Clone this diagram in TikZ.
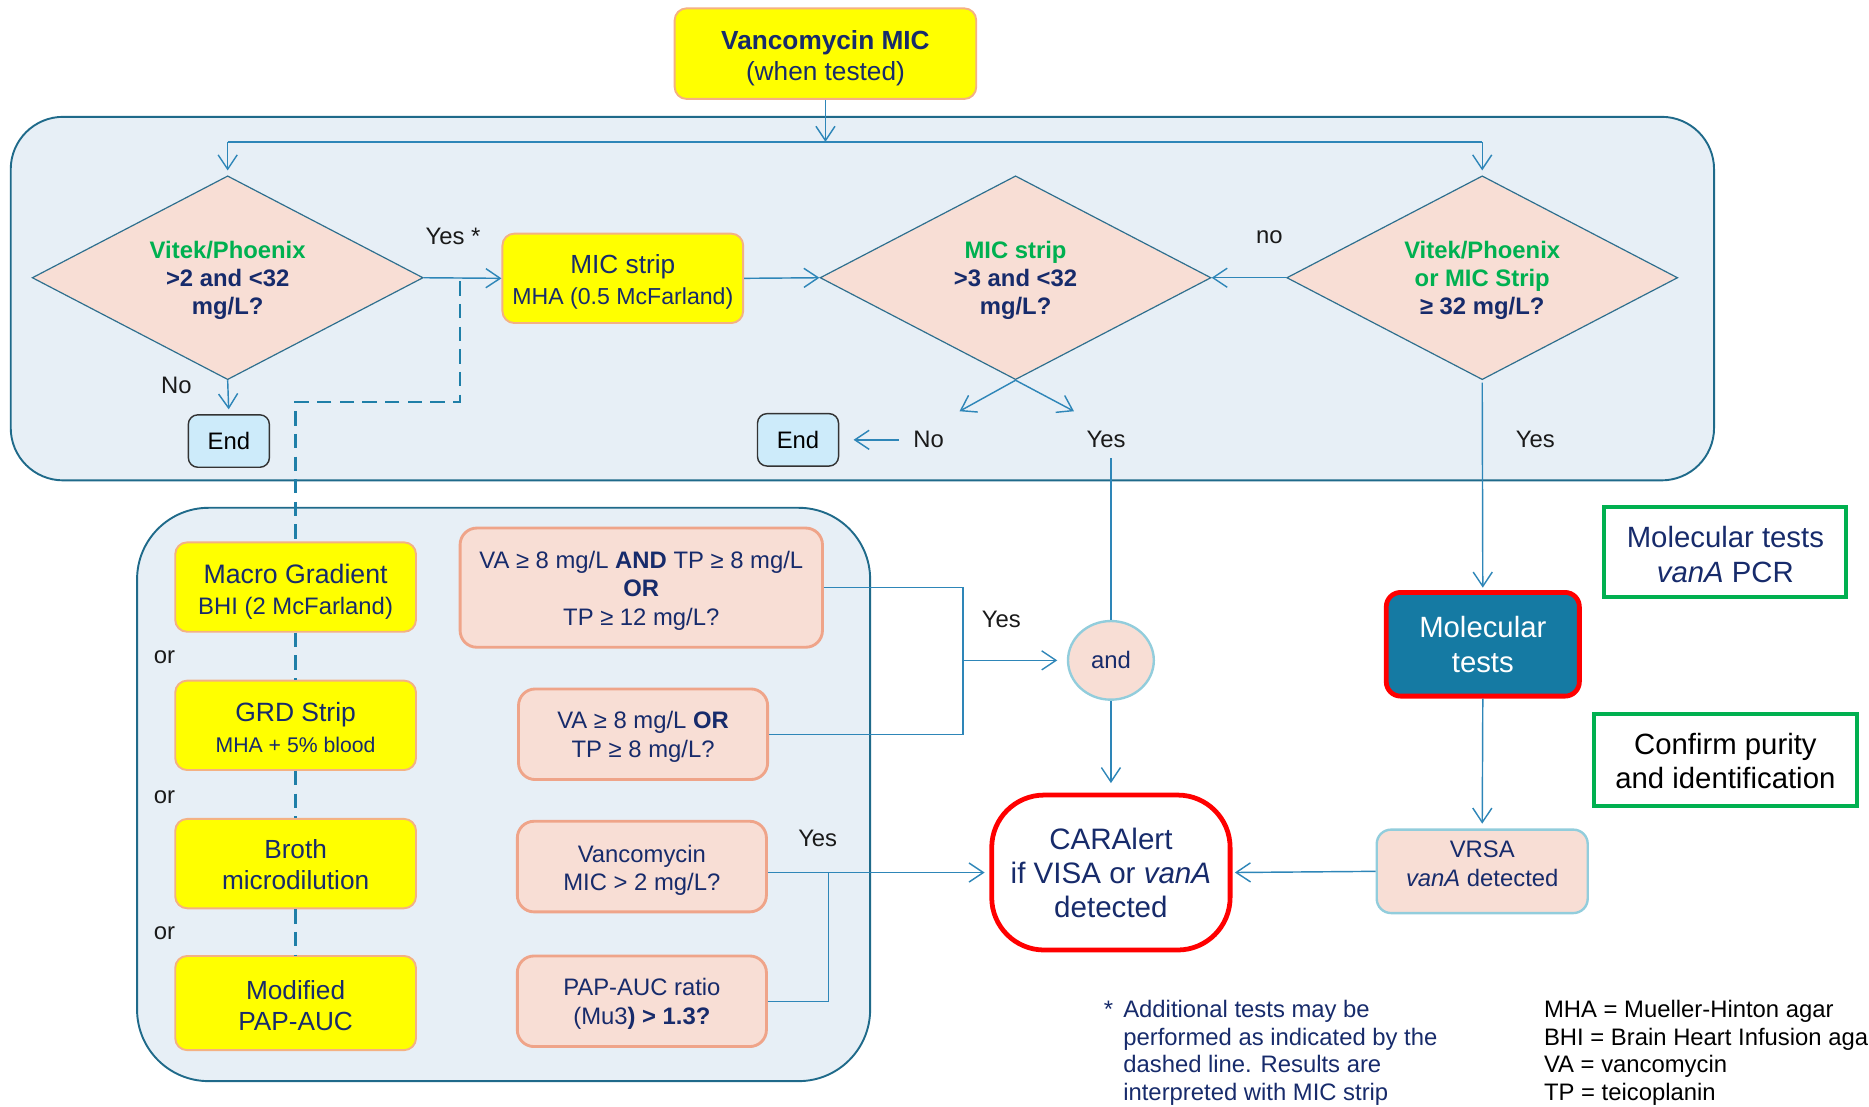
\documentclass[tikz,border=0pt]{standalone}
\usepackage{fontspec}
\setmainfont{Liberation Sans}
\usetikzlibrary{arrows.meta,shapes.geometric,calc}

\definecolor{navy}{HTML}{172B6B}
\definecolor{dgreen}{HTML}{00B050}
\definecolor{yfill}{HTML}{FFFF00}
\definecolor{yborder}{HTML}{F4B183}
\definecolor{pfill}{HTML}{F8DED5}
\definecolor{pborder}{HTML}{EFA489}
\definecolor{panelfill}{HTML}{E7EFF6}
\definecolor{panelborder}{HTML}{1F6A8A}
\definecolor{lineblue}{HTML}{2E86B8}
\definecolor{dashblue}{HTML}{1F7FA8}
\definecolor{diaborder}{HTML}{2E6F8E}
\definecolor{endfill}{HTML}{CDEBFA}
\definecolor{lightblue}{HTML}{92CDDC}
\definecolor{molfill}{HTML}{157AA3}
\definecolor{alertred}{HTML}{FF0000}
\definecolor{labelgray}{HTML}{1A1A1A}

\begin{document}
\begin{tikzpicture}[x=0.5pt,y=-0.5pt,
  panel/.style={draw=panelborder, fill=panelfill, line width=0.8pt},
  conn/.style={draw=lineblue, line width=0.6pt},
  arr/.style={conn, -{Straight Barb[length=6pt,width=8pt]}},
  dashline/.style={draw=dashblue, line width=1pt, dash pattern=on 6pt off 3.5pt},
  % box shapes; their texts are set as centred labels so they can be nudged
  ybox/.style={draw=yborder, fill=yfill, line width=0.8pt, rounded corners=5pt,
    inner sep=0pt, minimum width=101pt, minimum height=37.5pt},
  pbox/.style={draw=pborder, fill=pfill, line width=1.2pt, rounded corners=7pt,
    inner sep=0pt, minimum width=104.5pt, minimum height=38pt},
  boxtext/.style={align=center, text=navy, inner sep=0pt, font=\fontsize{11}{13}\selectfont},
  ptext/.style={boxtext, font=\fontsize{10}{12}\selectfont},
  dia/.style={diamond, draw=diaborder, fill=pfill, line width=0.5pt, inner sep=0pt,
    minimum width=164pt, minimum height=85.5pt},
  diatext/.style={align=center, text=navy, font=\fontsize{10}{11.75}\selectfont\bfseries},
  endbox/.style={draw=black!80, fill=endfill, line width=0.6pt, rounded corners=4pt,
    inner sep=0pt, minimum width=34pt, minimum height=22pt, font=\fontsize{10}{12}\selectfont},
  gbox/.style={draw=dgreen, fill=white, line width=1.6pt, inner sep=0pt},
  gtext/.style={boxtext, font=\fontsize{12.3}{14.5}\selectfont},
  lbl/.style={text=labelgray, font=\fontsize{10}{12}\selectfont, inner sep=0pt}
]
\useasboundingbox (0,0) rectangle (1568,928);

% background panels
\draw[panel, rounded corners=22pt] (9,98) rectangle (1438,403);
\draw[panel, rounded corners=30pt] (115,426) rectangle (730,907);

% entry box
\node[ybox, minimum width=126.5pt, minimum height=38pt,
  label={[boxtext, yshift=-2pt]center:{\textbf{Vancomycin MIC}\\(when tested)}}]
  (top) at (692.5,45) {};

% decision diamonds
\node[dia] (d1) at (191,233) {};
\node[diatext] at ($(d1)+(0,2.5)$) {\textcolor{dgreen}{Vitek/Phoenix}\\>2 and <32\\mg/L?};
\node[dia] (d2) at (852,233) {};
\node[diatext] at ($(d2)+(0,2.5)$) {\textcolor{dgreen}{MIC strip}\\>3 and <32\\mg/L?};
\node[dia] (d3) at (1243.5,233) {};
\node[diatext] at ($(d3)+(0,2.5)$) {\textcolor{dgreen}{Vitek/Phoenix}\\\textcolor{dgreen}{or MIC Strip}\\≥ 32 mg/L?};

% MIC strip box
\node[ybox, label={[boxtext, yshift=-1.5pt]center:{MIC strip\\{\fontsize{9.7}{12}\selectfont MHA (0.5 McFarland)}}}]
  (mic) at (522.5,233.5) {};

% end boxes
\node[endbox] (end1) at (192,370) {End};
\node[endbox] (end2) at (669.5,369) {End};

% split from the entry box
\coordinate (split) at (692.5,119);
\draw[arr] (top.south) -- (split);
\draw[conn] (d1.north |- split) -- (d3.north |- split);
\draw[arr, shorten >=2pt] (d1.north |- split) -- (d1.north);
\draw[arr, shorten >=2pt] (d3.north |- split) -- (d3.north);

% upper panel connectors
\draw[arr] (d1.east) -- (mic.west);
\node[lbl] (yes1) at (380,198) {Yes *};
\draw[arr] (mic.east) -- (d2.west);
\draw[arr] (d3.west) -- (d2.east);
\node[lbl] (no3) at (1065,199) {no};
\draw[arr, shorten >=2pt] (d1.south) -- (end1.north);
\node[lbl] (no1) at (148,323) {No};
\coordinate (d2l) at (805,345);
\coordinate (d2r) at (901,345);
\draw[arr] (d2.south) -- (d2l);
\draw[arr] (d2.south) -- (d2r);
\node[lbl] (no2) at (779,369) {No};
\node[lbl] (yes2) at (928,369) {Yes};
\draw[arr, shorten >=6pt] ($(no2.west)+(-12,0)$) -- (end2.east);
\node[lbl] (yes3) at (1288,369) {Yes};

% lower panel: methods
\node[ybox, label={[boxtext, yshift=-2pt, font=\fontsize{11.2}{13}\selectfont]center:{Macro Gradient\\{\fontsize{10}{12}\selectfont BHI (2 McFarland)}}}]
  (mg) at (248,492.5) {};
\node[ybox, label={[boxtext, yshift=-1pt, font=\fontsize{11.1}{13}\selectfont]center:{GRD Strip\\{\fontsize{8.9}{11}\selectfont MHA + 5\% blood}}}]
  (grd) at (248,608.5) {};
\node[ybox, label={[boxtext, yshift=-0.5pt]center:{Broth\\microdilution}}]
  (bmd) at (248,724.5) {};
\node[ybox, minimum height=39.5pt, label={[boxtext, yshift=-1pt]center:{Modified\\PAP-AUC}}]
  (pap) at (248,841.5) {};
\node[lbl] at (138,551) {or};
\node[lbl] at (138,669) {or};
\node[lbl] at (138,783) {or};

% dashed route for additional tests
\coordinate (dsh) at (386,233);
\draw[dashline] ($(dsh)+(0,3)$) -- (386,337) -- (248,337) -- (mg.north);
\draw[dashline] (mg.south) -- (grd.north);
\draw[dashline] (grd.south) -- (bmd.north);
\draw[dashline] (bmd.south) -- (pap.north);

% lower panel: criteria
\node[pbox, minimum width=152pt, minimum height=50pt,
  label={[ptext, yshift=-1.2pt]center:{VA ≥ 8 mg/L \textbf{AND} TP ≥ 8 mg/L\\\textbf{OR}\\TP ≥ 12 mg/L?}}]
  (ca) at (538,493) {};
\node[pbox, label={[ptext, yshift=-1.2pt]center:{VA ≥ 8 mg/L \textbf{OR}\\TP ≥ 8 mg/L?}}]
  (cb) at (539.5,616) {};
\node[pbox, label={[ptext, yshift=-1.5pt]center:{Vancomycin\\MIC > 2 mg/L?}}]
  (cc) at (538.5,727) {};
\node[pbox, label={[ptext, yshift=-1pt]center:{PAP-AUC ratio\\(Mu3\textbf{) > 1.3?}}}]
  (cd) at (538.5,840) {};

% result nodes
\node[ellipse, draw=lightblue, fill=pfill, line width=1pt, inner sep=0pt,
  minimum width=36pt, minimum height=33pt, text=navy, font=\fontsize{10}{12}\selectfont]
  (and) at (932,554) {and};
\node[draw=alertred, fill=white, line width=2pt, rounded corners=22pt, inner sep=0pt,
  minimum width=100pt, minimum height=65pt, align=center, text=navy,
  font=\fontsize{12.4}{14.25}\selectfont] (car) at (932,732)
  {CARAlert\\if VISA or \textit{vanA}\\detected};
\node[draw=alertred, fill=molfill, line width=2pt, rounded corners=6pt, inner sep=0pt,
  minimum width=81pt, minimum height=43.5pt, align=center, text=white,
  font=\fontsize{12.3}{14.5}\selectfont] (mol) at (1244,540.5) {Molecular\\tests};
\node[draw=lightblue, fill=pfill, line width=1pt, rounded corners=6pt, inner sep=0pt,
  minimum width=88.5pt, minimum height=35pt,
  label={[ptext, yshift=3.2pt]center:{VRSA\\\textit{vanA} detected}}] (vrsa) at (1243.5,731) {};
\node[gbox, minimum width=101.5pt, minimum height=38pt,
  label={[gtext, yshift=-1pt]center:{Molecular tests\\\textit{vanA} PCR}}] (g1) at (1447.5,463) {};
\node[gbox, minimum width=110.5pt, minimum height=38.5pt,
  label={[gtext, text=black, yshift=-0.5pt]center:{Confirm purity\\and identification}}] (g2) at (1447.5,637.5) {};

% criteria connectors
\coordinate (brk) at (808,554);
\draw[conn] (ca.east) -| (brk);
\draw[conn] (cb.east) -| (brk);
\draw[arr, shorten >=4pt] (brk) -- (and.west);
\node[lbl] at (840,520) {Yes};
\coordinate (jd) at (695,732);
\draw[arr, shorten >=2pt] (cc.east |- car.west) -- (car.west);
\draw[conn] (cd.east) -| (jd);
\node[lbl] at (686,703) {Yes};

% result connectors
\draw[conn] (and.north |- yes2.south) ++(0,8) -- (and.north);
\draw[arr, shorten >=4pt] (and.south) -- (car.north);
\draw[arr, shorten >=1pt] ($(d3.south)+(0,2)$) -- (mol.north);
\draw[arr, shorten >=2pt] (mol.south) -- (vrsa.north);
\draw[arr, shorten >=1pt] (vrsa.west) -- (car.east);

% notes
\node[lbl, text=navy] at (930,847) {*};
\node[lbl, text=navy, anchor=north west, align=left, font=\fontsize{10}{11.5}\selectfont]
  (note) at (942,839) {Additional tests may be\\performed as indicated by the\\dashed line. Results are\\interpreted with MIC strip};
\node[lbl, text=black, anchor=north west, align=left, font=\fontsize{10}{11.5}\selectfont]
  (abbr) at (1295,839) {MHA = Mueller-Hinton agar\\BHI = Brain Heart Infusion agar\\VA = vancomycin\\TP = teicoplanin};
\end{tikzpicture}
\end{document}
